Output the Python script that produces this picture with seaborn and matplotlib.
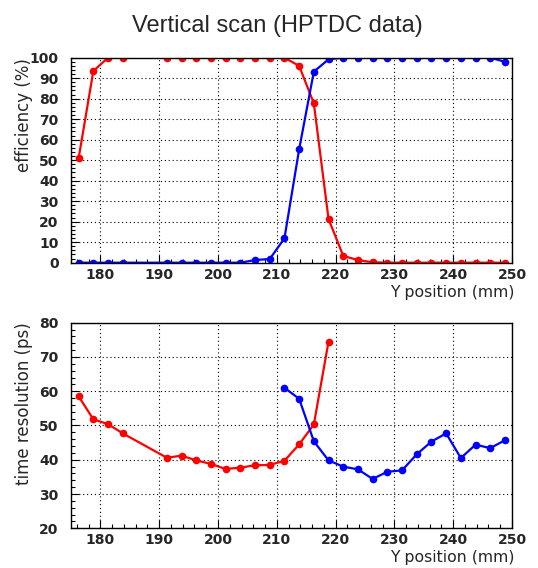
import numpy as np
import pandas as pd
import matplotlib
matplotlib.use("Agg")
import matplotlib.pyplot as plt
from matplotlib.ticker import MultipleLocator
import seaborn as sns

# ---------------- data ----------------
y_pos_eff = [176.3, 178.8, 181.3, 183.8, 191.3, 193.8, 196.3, 198.8, 201.3, 203.8,
             206.3, 208.8, 211.3, 213.8, 216.3, 218.8, 221.3, 223.8, 226.3, 228.8,
             231.3, 233.8, 236.3, 238.8, 241.3, 243.8, 246.3, 248.8]
eff_red = [51.0, 93.5, 100.0, 100.0, 100.0, 100.0, 100.0, 100.0, 100.0, 100.0,
           100.0, 100.0, 100.0, 96.0, 77.7, 21.3, 3.3, 1.3, 0.2, 0.0,
           0.0, 0.0, 0.0, 0.0, 0.0, 0.0, 0.0, 0.0]
eff_blue = [0.0, 0.0, 0.0, 0.0, 0.0, 0.0, 0.0, 0.0, 0.0, 0.0,
            1.3, 1.8, 11.9, 55.3, 93.2, 99.2, 100.0, 100.0, 100.0, 100.0,
            100.0, 99.8, 100.0, 99.8, 100.0, 100.0, 100.0, 98.0]

y_pos_res_red = [176.3, 178.8, 181.3, 183.8, 191.3, 193.8, 196.3, 198.8, 201.3,
                 203.8, 206.3, 208.8, 211.3, 213.8, 216.3, 218.8]
res_red = [58.5, 51.8, 50.4, 47.7, 40.6, 41.2, 39.8, 38.8, 37.3,
           37.7, 38.4, 38.5, 39.7, 44.5, 50.3, 74.5]
y_pos_res_blue = [211.3, 213.8, 216.3, 218.8, 221.3, 223.8, 226.3, 228.8,
                  231.3, 233.8, 236.3, 238.8, 241.3, 243.8, 246.3, 248.8]
res_blue = [61.0, 57.8, 45.4, 39.8, 38.0, 37.2, 34.4, 36.5,
            36.9, 41.6, 45.3, 47.7, 40.5, 44.4, 43.4, 45.7]

title = "Vertical scan (HPTDC data)"
xlabel = "Y position (mm)"
ylabel_top = "efficiency (%)"
ylabel_bot = "time resolution (ps)"
x_ticks = [180, 190, 200, 210, 220, 230, 240, 250]
y_ticks_top = [0, 10, 20, 30, 40, 50, 60, 70, 80, 90, 100]
y_ticks_bot = [20, 30, 40, 50, 60, 70, 80]

# ---------------- style ----------------
sns.set_style("white")
plt.rcParams["font.family"] = ["DejaVu Sans"]

W, H = 538, 568
fig = plt.figure(figsize=(W / 100, H / 100), dpi=100)


def ax_rect(l, t, r, b):
    return [l / W, 1 - b / H, (r - l) / W, (b - t) / H]


ax1 = fig.add_axes(ax_rect(71, 57.7, 512, 262.7))
ax2 = fig.add_axes(ax_rect(71, 322.7, 512, 528.3))

RED = "#ff0000"
BLUE = "#0000ff"
line_kw = dict(marker="o", markersize=5.5, linewidth=1.6, markeredgewidth=0,
               sort=False, estimator=None, legend=False)

df_eff = pd.DataFrame({"y": y_pos_eff, "red": eff_red, "blue": eff_blue})
sns.lineplot(data=df_eff, x="y", y="red", color=RED, ax=ax1, **line_kw)
sns.lineplot(data=df_eff, x="y", y="blue", color=BLUE, ax=ax1, **line_kw)

df_rr = pd.DataFrame({"y": y_pos_res_red, "v": res_red})
df_rb = pd.DataFrame({"y": y_pos_res_blue, "v": res_blue})
sns.lineplot(data=df_rr, x="y", y="v", color=RED, ax=ax2, **line_kw)
sns.lineplot(data=df_rb, x="y", y="v", color=BLUE, ax=ax2, **line_kw)

for ax, yt, ylab in [(ax1, y_ticks_top, ylabel_top), (ax2, y_ticks_bot, ylabel_bot)]:
    ax.set_xlim(175, 250)
    ax.set_ylim(yt[0], yt[-1])
    ax.set_xticks(x_ticks)
    ax.set_yticks(yt)
    ax.xaxis.set_minor_locator(MultipleLocator(2))
    ax.yaxis.set_minor_locator(MultipleLocator(2))
    ax.tick_params(which="both", direction="in", top=False, right=False,
                   bottom=True, left=True, color="black")
    ax.tick_params(which="major", length=6, width=0.8, labelsize=10)
    ax.tick_params(which="minor", length=3.2, width=0.8)
    ax.tick_params(axis="y", which="major", pad=9)
    ax.tick_params(axis="x", which="major", pad=3.5)
    for lab in ax.get_xticklabels() + ax.get_yticklabels():
        lab.set_fontweight("bold")
    ax.grid(True, which="major", color="black", linestyle=(0, (1, 2.5)), linewidth=0.8)
    for s in ax.spines.values():
        s.set_color("black")
        s.set_linewidth(1.0)
        s.set_visible(True)
    ax.set_xlabel(xlabel, fontsize=11.3, loc="right")
    ax.set_ylabel(ylab, fontsize=12, loc="top")
    ax.yaxis.set_label_coords(-0.086, 1.0)

ax1.xaxis.set_label_coords(1.005, -0.11)
ax2.xaxis.set_label_coords(1.005, -0.104)

fig.text(277.5 / W, 1 - 31.7 / H, title, ha="center", va="baseline",
         fontsize=17, family=["Liberation Sans", "DejaVu Sans"])

fig.savefig("out.png", dpi=100)
